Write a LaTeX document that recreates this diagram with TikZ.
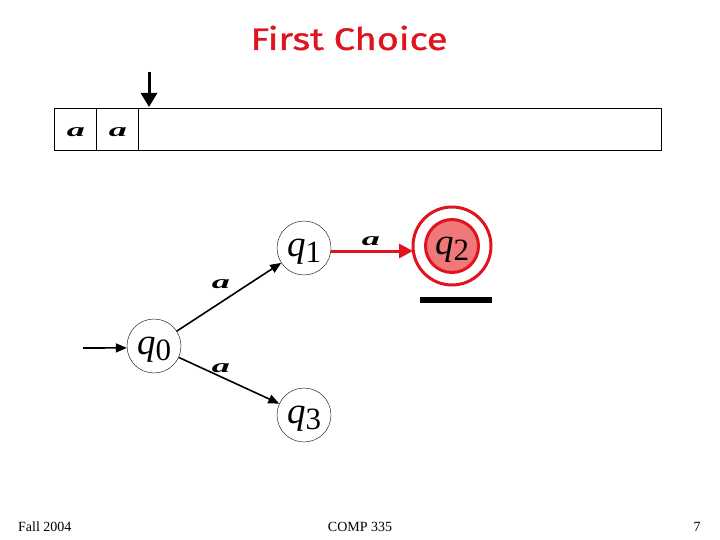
\documentclass[tikz,border=0pt]{standalone}
\usepackage{fontspec}
\setmainfont{Liberation Serif}
\newfontfamily\titlefont[FakeBold=1.2]{Fira Sans}
\usetikzlibrary{arrows.meta}
\definecolor{tred}{HTML}{E0141E}
\definecolor{sfill}{HTML}{F07878}
\newcommand{\qst}[1]{{\fontsize{37}{37}\selectfont\itshape q}{\fontsize{31}{31}\selectfont\raisebox{-6pt}{#1}}}
\newcommand{\asym}{\scalebox{1.9}[1]{\fontsize{19}{19}\selectfont\bfseries\itshape a}}
\begin{document}
\begin{tikzpicture}[x=1pt,y=-1pt,
  state/.style={circle,draw,thin,minimum size=54pt,inner sep=0pt},
  qtext/.style={inner sep=0pt,yshift=-4pt},
  edge/.style={draw,line width=1.6pt,-{Triangle[length=11pt,width=9pt]}},
  lbl/.style={inner sep=0pt}]
\useasboundingbox (0,0) rectangle (720,540);
% title
\node[text=tred,inner sep=0pt] (title) at (349,38) {\scalebox{1.22}[1]{\titlefont\fontsize{31}{31}\selectfont First Choice}};
% tape
\node[draw,thin,minimum width=607pt,minimum height=42pt,inner sep=0pt,anchor=north west] (tape) at (54,108) {};
\draw[thin] (96,108) -- (96,150) (138,108) -- (138,150);
\node[lbl] (t1) at (76,132) {\asym};
\node[lbl] (t2) at (118,132) {\asym};
\coordinate (hs) at (149,72);
\coordinate (he) at (149,107);
\draw[line width=3pt,-{Triangle[length=14pt,width=16pt]}] (hs) -- (he);
% states
\node[state] (q1) at (304,248) {};
\node[qtext] (q1t) at (q1.center) {\qst{1}};
\node[state,draw=none] (q2) at (452,246) {};
\draw[tred,line width=3pt,fill=sfill] (q2.center) circle (26.5pt);
\node[qtext] (q2t) at (q2.center) {\qst{2}};
\draw[tred,line width=3pt] (q2.center) circle (39pt);
\node[state] (q0) at (154,346) {};
\node[qtext] (q0t) at (q0.center) {\qst{0}};
\node[state] (q3) at (304,415) {};
\node[qtext] (q3t) at (q3.center) {\qst{3}};
\coordinate (bl) at (420,300);
\coordinate (br) at (492,300);
\draw[line width=6pt] (bl) -- (br);
% edges
\coordinate (st) at (83,348);
\draw[edge] (st) -- (q0.184);
\draw[edge] (q0) -- (q1);
\draw[edge] (q0) -- (q3);
\coordinate (r1) at (331,251);
\coordinate (r2) at (413,251);
\draw[tred,line width=3pt,-{Triangle[length=14pt,width=14pt]}] (r1) -- (r2);
\node[lbl] (a1) at (221,284) {\asym};
\node[lbl] (a2) at (221,368) {\asym};
\node[lbl] (a3) at (371,241) {\asym};
% footer
\node[font=\fontsize{14}{14}\selectfont,anchor=west,inner sep=0pt] (f1) at (18,527) {Fall 2004};
\node[font=\fontsize{14}{14}\selectfont] (f2) at (360,527) {COMP 335};
\node[font=\fontsize{14}{14}\selectfont] (f3) at (697,527) {7};
\end{tikzpicture}
\end{document}
